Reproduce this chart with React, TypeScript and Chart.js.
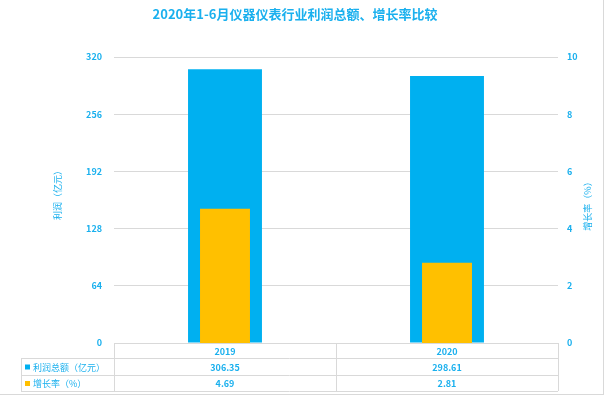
import React, { useEffect, useRef } from "react";
import { Chart, registerables } from "chart.js";

Chart.register(...registerables);

const titleText = "2020年1-6月仪器仪表行业利润总额、增长率比较";
const categories = ["2019", "2020"];
const profitName = "利润总额（亿元）";
const growthName = "增长率（%）";
const profit = [306.35, 298.61];
const growth = [4.69, 2.81];
const leftAxisTitle = "利润（亿元）";
const rightAxisTitle = "增长率（%）";

const BLUE = "#00B0F0";
const ORANGE = "#FFC000";
const TEXT = "#1AB0EE";
const GRID = "#D9D9D9";
const FONT = "'Noto Sans CJK SC', 'Noto Sans', sans-serif";

const overlayPlugin = {
  id: "overlay",
  afterDraw(chart: any) {
    const ctx = chart.ctx as CanvasRenderingContext2D;
    const area = chart.chartArea;
    const xs = chart.scales.x;
    ctx.save();
    // title
    ctx.fillStyle = TEXT;
    ctx.font = `bold 13px ${FONT}`;
    ctx.textAlign = "center";
    ctx.textBaseline = "middle";
    ctx.fillText(titleText, 295, 14);

    // axis titles
    ctx.font = `9px ${FONT}`;
    ctx.save();
    ctx.translate(58, 193);
    ctx.rotate(-Math.PI / 2);
    ctx.fillText(leftAxisTitle, 0, 0);
    ctx.restore();
    ctx.save();
    ctx.translate(588, 204);
    ctx.rotate(-Math.PI / 2);
    ctx.fillText(rightAxisTitle, 0, 0);
    ctx.restore();

    // data table
    const tableLeft = 21;
    const left = area.left;
    const right = area.right;
    const top = area.bottom;
    const rowY = [top, top + 15, top + 32, top + 48];
    ctx.strokeStyle = GRID;
    ctx.lineWidth = 1;
    ctx.beginPath();
    ctx.moveTo(left, rowY[0] + 0.5);
    ctx.lineTo(right, rowY[0] + 0.5);
    for (let r = 1; r < rowY.length; r++) {
      ctx.moveTo(tableLeft, rowY[r] + 0.5);
      ctx.lineTo(right, rowY[r] + 0.5);
    }
    ctx.moveTo(tableLeft + 0.5, rowY[1]);
    ctx.lineTo(tableLeft + 0.5, rowY[3]);
    const n = categories.length;
    const colW = (right - left) / n;
    for (let c = 0; c <= n; c++) {
      const x = Math.round(left + c * colW) + 0.5;
      ctx.moveTo(x, rowY[0]);
      ctx.lineTo(x, rowY[3]);
    }
    ctx.stroke();

    ctx.font = `bold 9px ${FONT}`;
    ctx.fillStyle = TEXT;
    ctx.textAlign = "center";
    categories.forEach((cat, i) => {
      const cx = xs.getPixelForValue(i);
      ctx.fillText(cat, cx, (rowY[0] + rowY[1]) / 2 + 1);
      ctx.fillText(profit[i].toFixed(2), cx, (rowY[1] + rowY[2]) / 2 + 1);
      ctx.fillText(growth[i].toFixed(2), cx, (rowY[2] + rowY[3]) / 2 + 1);
    });
    // legend keys
    ctx.textAlign = "left";
    const rows = [
      { name: profitName, color: BLUE },
      { name: growthName, color: ORANGE },
    ];
    rows.forEach((row, i) => {
      const cy = (rowY[i + 1] + rowY[i + 2]) / 2;
      ctx.fillStyle = row.color;
      ctx.fillRect(25, cy - 2, 5, 5);
      ctx.fillStyle = TEXT;
      ctx.font = `9px ${FONT}`;
      ctx.fillText(row.name, 33, cy + 1);
    });

    // chart border (bottom / right)
    ctx.strokeStyle = GRID;
    ctx.beginPath();
    ctx.moveTo(0, 394.5);
    ctx.lineTo(604, 394.5);
    ctx.moveTo(603.5, 0);
    ctx.lineTo(603.5, 395);
    ctx.stroke();
    ctx.restore();
  },
};

export default function App() {
  const ref = useRef<HTMLCanvasElement>(null);
  useEffect(() => {
    document.body.style.margin = "0";
    const canvas = ref.current!;
    const chart = new Chart(canvas, {
      type: "bar",
      data: {
        labels: categories,
        datasets: [
          {
            label: profitName,
            data: profit,
            backgroundColor: BLUE,
            yAxisID: "y",
            grouped: false,
            order: 2,
            barPercentage: 0.333,
            categoryPercentage: 1,
          },
          {
            label: growthName,
            data: growth,
            backgroundColor: ORANGE,
            yAxisID: "y1",
            grouped: false,
            order: 1,
            barPercentage: 0.225,
            categoryPercentage: 1,
          },
        ] as any,
      },
      options: {
        responsive: false,
        animation: false,
        devicePixelRatio: 1,
        layout: { padding: { top: 57, bottom: 52, left: 0, right: 0 } },
        plugins: {
          legend: { display: false },
          title: { display: false },
          tooltip: { enabled: false },
        },
        scales: {
          x: { display: false },
          y: {
            position: "left",
            min: 0,
            max: 320,
            ticks: {
              stepSize: 64,
              color: TEXT,
              padding: 12,
              font: { family: FONT, size: 9, weight: "bold" },
            },
            grid: { color: GRID, drawTicks: false },
            border: { display: false },
            afterFit: (s: any) => {
              s.width = 114;
            },
          },
          y1: {
            position: "right",
            min: 0,
            max: 10,
            ticks: {
              stepSize: 2,
              color: TEXT,
              padding: 9,
              font: { family: FONT, size: 9, weight: "bold" },
            },
            grid: { display: false, drawTicks: false },
            border: { display: false },
            afterFit: (s: any) => {
              s.width = 46;
            },
          },
        },
      } as any,
      plugins: [overlayPlugin],
    });
    return () => chart.destroy();
  }, []);
  return <canvas ref={ref} width={604} height={395} style={{ display: "block" }} />;
}
